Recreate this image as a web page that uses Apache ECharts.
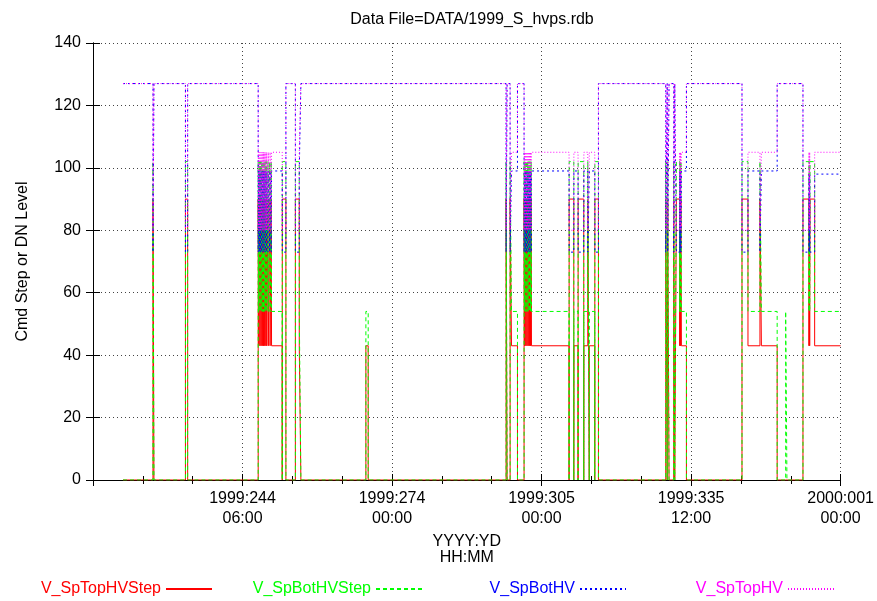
<!DOCTYPE html>
<html><head><meta charset="utf-8">
<script src="https://cdn.jsdelivr.net/npm/echarts@6/dist/echarts.min.js"></script>
<style>html,body{margin:0;padding:0;background:#fff}#c{width:877px;height:601px}</style>
</head><body><div id="c"></div>
<script>
// time in days since 1999-01-01 00:00 (i.e. day-of-year - 1, fractional)
const times = [218.92,225.02,225.22,231.63,232.08,246.44,246.56,246.68,246.80,246.92,247.04,247.16,247.28,247.40,247.52,247.64,247.76,247.88,248.00,248.12,248.18,248.42,248.50,248.78,248.86,249.08,249.16,251.33,251.35,252.08,254.01,254.80,255.13,268.36,268.83,296.90,297.11,297.72,298.00,299.22,300.56,300.68,300.80,300.92,301.04,301.16,301.28,301.40,301.52,301.64,301.76,301.88,302.00,302.07,309.72,309.74,310.68,310.70,311.55,311.57,312.71,312.73,313.53,313.83,313.85,314.95,314.97,315.70,329.40,329.70,329.80,330.07,331.02,331.23,331.57,332.24,332.32,332.40,332.48,332.59,333.61,344.92,346.14,348.58,348.87,352.08,353.81,354.07,357.33,358.55,358.62,358.70,358.78,359.71,364.98];
const topStep = [0,90,0,90,0,90,43,90,43,90,43,90,43,90,43,90,43,90,43,90,43,90,43,90,43,90,43,0,90,0,90,43,0,43,0,90,0,90,43,0,90,43,90,43,90,43,90,43,90,43,90,43,90,43,0,90,0,43,0,90,0,43,90,0,43,0,90,0,90,0,90,0,90,0,90,43,90,43,90,43,0,90,43,90,43,0,0,0,90,43,90,43,90,43,43];
const botStep = [0,102,0,102,0,102,54,102,54,102,54,102,54,102,54,102,54,102,54,102,54,102,54,102,54,102,54,0,102,0,102,54,0,54,0,102,0,102,54,0,102,54,102,54,102,54,102,54,102,54,102,54,102,54,0,102,0,54,0,102,0,54,102,0,54,0,102,0,102,0,102,0,102,0,102,54,102,54,102,54,0,102,54,102,54,0,54,0,102,54,102,54,102,54,54];
const botHV = [127,73,127,73,127,73,99,73,99,73,99,73,99,73,99,73,99,73,99,73,99,73,99,73,99,73,99,99,73,127,73,99,127,127,127,73,127,73,99,127,73,99,73,99,73,99,73,99,73,99,73,99,73,99,99,73,73,99,99,73,73,99,73,73,99,99,73,127,73,127,73,127,73,127,73,99,73,99,73,99,127,73,99,73,99,127,127,127,73,98,73,98,73,98,98];
const topHV = [127,80,127,80,127,80,105,80,105,80,105,80,105,80,105,80,105,80,105,80,105,80,105,80,105,80,105,105,80,127,80,105,127,127,127,80,127,80,105,127,80,105,80,105,80,105,80,105,80,105,80,105,80,105,105,80,80,105,105,80,80,105,80,80,105,105,80,127,80,127,80,127,80,127,80,105,80,105,80,105,127,80,105,80,105,127,127,127,80,105,80,105,80,105,105];
const tickLabels = ['', '1999:244\n06:00', '1999:274\n00:00', '1999:305\n00:00', '1999:335\n12:00', '2000:001\n00:00'];
const seriesNames = ['V_SpTopHVStep','V_SpBotHVStep','V_SpBotHV','V_SpTopHV'];
const seriesColors = ['#ff0000','#00ff00','#0000ff','#ff00ff'];

const T0 = 212.8125, STEP = 30.4375;
const FONT = '"Liberation Sans", Arial, sans-serif';
const FS = 16;
const valuesList = [topStep, botStep, botHV, topHV];
const dashes = ['solid', [4,3], [2,3], [1,2]];
const legendRight = [659, 449, 245, 37];

const chart = echarts.init(document.getElementById('c'), null, {renderer:'canvas'});
const blackLine = {lineStyle:{color:'#000', width:1}};
const splitStyle = {show:true, lineStyle:{color:'#444', width:1, type:[1,3]}};

chart.setOption({
  animation:false,
  backgroundColor:'#fff',
  textStyle:{fontFamily:FONT},
  title:{text:'Data File=DATA/1999_S_hvps.rdb', left:467, textAlign:'center', top:7,
    textStyle:{fontFamily:FONT, fontSize:FS, fontWeight:'normal', color:'#000'}},
  grid:{left:93, right:36, top:43, bottom:121, containLabel:false},
  legend: seriesNames.map((n,i)=>({
    data:[n], right:legendRight[i], top:576, align:'right', itemWidth:46, itemHeight:10, itemGap:0,
    itemStyle:{opacity:0},
    textStyle:{color:seriesColors[i], fontSize:FS, fontFamily:FONT}
  })),
  xAxis:[{
    type:'value', min:0, max:STEP*5, interval:STEP, position:'bottom',
    axisLine:blackLine, axisTick:{inside:true, length:6, lineStyle:{color:'#000'}},
    minorTick:{show:true, splitNumber:3, length:4, lineStyle:{color:'#000'}},
    splitLine:splitStyle,
    axisLabel:{formatter:(v)=>tickLabels[Math.round(v/STEP)]||'', fontSize:FS, color:'#000', lineHeight:20, margin:9,
      showMinLabel:true, showMaxLabel:true, hideOverlap:false, fontFamily:FONT},
    name:'YYYY:YD\nHH:MM', nameLocation:'middle', nameGap:50,
    nameTextStyle:{fontSize:FS, color:'#000', lineHeight:16, fontFamily:FONT}
  },{
    type:'value', min:0, max:STEP*5, interval:STEP, position:'top',
    axisLine:blackLine, axisTick:{inside:true, length:6, lineStyle:{color:'#000'}},
    minorTick:{show:true, splitNumber:3, length:4, lineStyle:{color:'#000'}},
    splitLine:{show:false}, axisLabel:{show:false}
  }],
  yAxis:[{
    type:'value', min:0, max:140, interval:20, position:'left',
    axisLine:blackLine, axisTick:{inside:true, length:7, lineStyle:{color:'#000'}},
    splitLine:splitStyle,
    axisLabel:{fontSize:FS, color:'#000', margin:12, fontFamily:FONT},
    name:'Cmd Step or DN Level', nameLocation:'middle', nameGap:62,
    nameTextStyle:{fontSize:FS, color:'#000', fontFamily:FONT}
  },{
    type:'value', min:0, max:140, interval:20, position:'right',
    axisLine:blackLine, axisTick:{inside:true, length:7, lineStyle:{color:'#000'}},
    splitLine:{show:false}, axisLabel:{show:false}
  }],
  series: seriesNames.map((n,i)=>({
    name:n, type:'line', step:'end', symbol:'none', xAxisIndex:0, yAxisIndex:0,
    color:seriesColors[i],
    lineStyle:{color:seriesColors[i], width:1, type:dashes[i]},
    data: times.map((t,k)=>[t - T0, valuesList[i][k]])
  }))
});
</script></body></html>
